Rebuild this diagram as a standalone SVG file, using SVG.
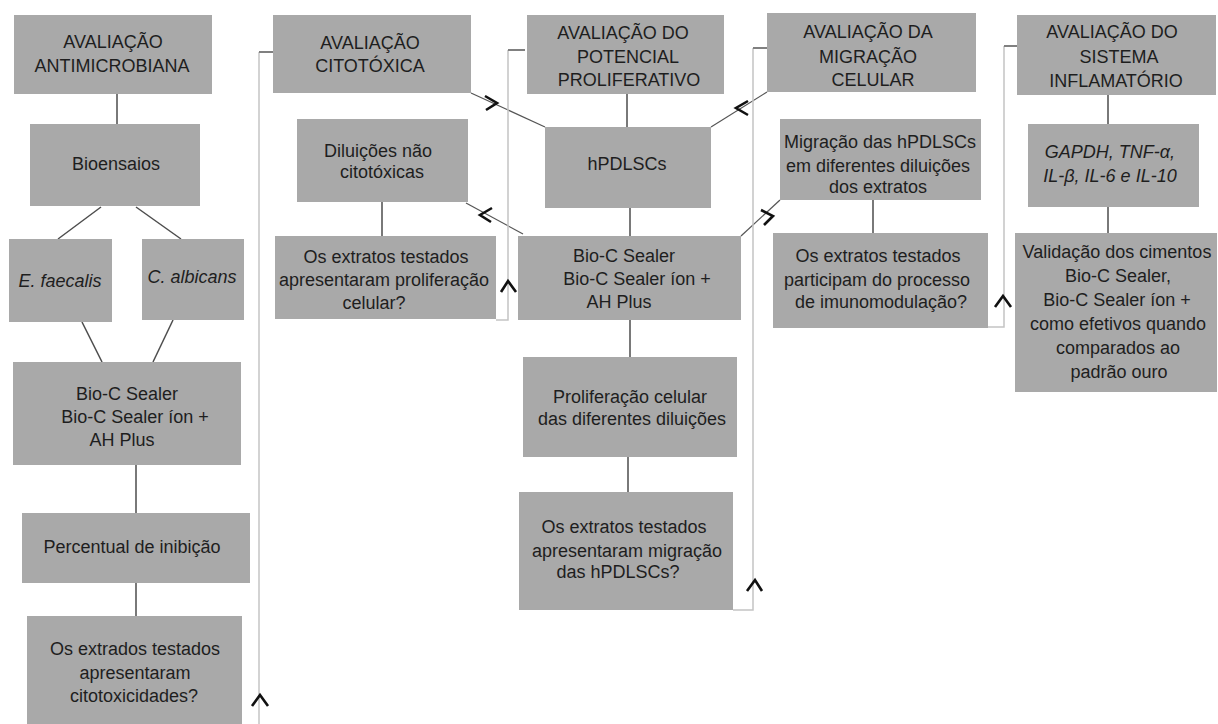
<svg xmlns="http://www.w3.org/2000/svg" width="1218" height="724" viewBox="0 0 1218 724">
<style>
.box{fill:#a9a9a9}
.t{font-family:"Liberation Sans",Arial,sans-serif;font-size:18px;fill:#1e1e1e;text-anchor:middle}
.i{font-style:italic}
.conn{stroke:#4d4d4d;stroke-width:1.5;fill:none}
.diag{stroke:#555;stroke-width:1.2;fill:none}
.bracket{stroke:#c4c4c4;stroke-width:1.5;fill:none}
.stub{stroke:#808080;stroke-width:2;fill:none}
.mark{stroke:#111;stroke-width:2.6;fill:none;stroke-linejoin:miter}
</style>
<rect width="1218" height="724" fill="#fff"/>
<g id="connectors">
<line class="conn" x1="117" y1="94" x2="117" y2="124"/>
<line class="conn" x1="101" y1="207" x2="58" y2="239"/>
<line class="conn" x1="136" y1="207" x2="181" y2="239"/>
<line class="conn" x1="82" y1="322" x2="102" y2="362"/>
<line class="conn" x1="173" y1="320" x2="153" y2="362"/>
<line class="conn" x1="136" y1="465" x2="136" y2="513"/>
<line class="conn" x1="136" y1="583" x2="136" y2="616"/>
<line class="conn" x1="382" y1="202" x2="382" y2="236"/>
<line class="conn" x1="627" y1="94" x2="627" y2="127"/>
<line class="conn" x1="630" y1="208" x2="630" y2="236"/>
<line class="conn" x1="630" y1="320" x2="630" y2="357"/>
<line class="conn" x1="628" y1="457" x2="628" y2="492"/>
<line class="conn" x1="873" y1="200" x2="873" y2="233"/>
<line class="conn" x1="1108" y1="95" x2="1108" y2="124"/>
<line class="conn" x1="1108" y1="207" x2="1108" y2="233"/>
<line class="diag" x1="471" y1="93" x2="545" y2="127"/>
<line class="diag" x1="466" y1="203" x2="523" y2="234"/>
<line class="diag" x1="711" y1="127" x2="767" y2="92"/>
<line class="diag" x1="741" y1="236" x2="780" y2="200"/>
<polyline class="bracket" points="259,52 259,724"/>
<line class="stub" x1="259" y1="52" x2="273" y2="52"/>
<polyline class="bracket" points="496,320 508,320 508,50"/>
<line class="stub" x1="508" y1="50" x2="525" y2="50"/>
<polyline class="bracket" points="733,610 753,610 753,48"/>
<line class="stub" x1="753" y1="48" x2="767" y2="48"/>
<polyline class="bracket" points="988,327 1004,327 1004,46"/>
<line class="stub" x1="1004" y1="46" x2="1017" y2="46"/>
<polyline class="mark" points="485,96 497,103 486,110"/>
<polyline class="mark" points="492,208 480,215 491,222"/>
<polyline class="mark" points="748,101 736,108 748,115"/>
<polyline class="mark" points="761,210 773,216 764,225"/>
<polyline class="mark" points="252,706 260,695 268,706"/>
<polyline class="mark" points="501,292 508,281 516,292"/>
<polyline class="mark" points="747,591 755,580 762,591"/>
<polyline class="mark" points="995,307 1003,296 1011,307"/>
</g>
<g id="n-antimicrobiana"><rect class="box" x="14" y="15" width="198" height="79"/><text class="t"><tspan x="113" y="48">AVALIAÇÃO</tspan><tspan x="112" y="72">ANTIMICROBIANA</tspan></text></g>
<g id="n-bioensaios"><rect class="box" x="30" y="124" width="170" height="82"/><text class="t" x="116" y="170">Bioensaios</text></g>
<g id="n-efaecalis"><rect class="box" x="9" y="239" width="103" height="83"/><text class="t i" x="60" y="287">E. faecalis</text></g>
<g id="n-calbicans"><rect class="box" x="142" y="239" width="102" height="81"/><text class="t i" x="192" y="283">C. albicans</text></g>
<g id="n-bioc1"><rect class="box" x="13" y="362" width="228" height="103"/><text class="t"><tspan x="127" y="400">Bio-C Sealer</tspan><tspan x="135" y="423">Bio-C Sealer íon +</tspan><tspan x="122" y="446">AH Plus</tspan></text></g>
<g id="n-percentual"><rect class="box" x="22" y="513" width="228" height="70"/><text class="t" x="132" y="553">Percentual de inibição</text></g>
<g id="n-citotox-q"><rect class="box" x="27" y="616" width="215" height="112"/><text class="t"><tspan x="135" y="655">Os extrados testados</tspan><tspan x="135" y="679">apresentaram</tspan><tspan x="134" y="702">citotoxicidades?</tspan></text></g>
<g id="n-citotoxica"><rect class="box" x="273" y="15" width="198" height="78"/><text class="t"><tspan x="370" y="49">AVALIAÇÃO</tspan><tspan x="370" y="72">CITOTÓXICA</tspan></text></g>
<g id="n-diluicoes"><rect class="box" x="297" y="119" width="171" height="83"/><text class="t"><tspan x="378" y="157">Diluições não</tspan><tspan x="382" y="178">citotóxicas</tspan></text></g>
<g id="n-prolif-q"><rect class="box" x="275" y="236" width="221" height="83"/><text class="t"><tspan x="386" y="263">Os extratos testados</tspan><tspan x="384" y="286">apresentaram proliferação</tspan><tspan x="374" y="309">celular?</tspan></text></g>
<g id="n-potencial"><rect class="box" x="527" y="15" width="197" height="79"/><text class="t"><tspan x="623" y="39">AVALIAÇÃO DO</tspan><tspan x="628" y="63">POTENCIAL</tspan><tspan x="629" y="86">PROLIFERATIVO</tspan></text></g>
<g id="n-hpdlscs"><rect class="box" x="545" y="127" width="166" height="81"/><text class="t" x="627" y="170">hPDLSCs</text></g>
<g id="n-bioc2"><rect class="box" x="518" y="236" width="223" height="84"/><text class="t"><tspan x="624" y="262">Bio-C Sealer</tspan><tspan x="637" y="285">Bio-C Sealer íon +</tspan><tspan x="619" y="308">AH Plus</tspan></text></g>
<g id="n-proliferacao"><rect class="box" x="523" y="357" width="214" height="100"/><text class="t"><tspan x="630" y="403">Proliferação celular</tspan><tspan x="632" y="425">das diferentes diluições</tspan></text></g>
<g id="n-migracao-q"><rect class="box" x="519" y="492" width="214" height="118"/><text class="t"><tspan x="624" y="533">Os extratos testados</tspan><tspan x="627" y="557">apresentaram migração</tspan><tspan x="618" y="578">das hPDLSCs?</tspan></text></g>
<g id="n-migracao"><rect class="box" x="767" y="13" width="209" height="79"/><text class="t"><tspan x="868" y="38">AVALIAÇÃO  DA</tspan><tspan x="868" y="63">MIGRAÇÃO</tspan><tspan x="873" y="86">CELULAR</tspan></text></g>
<g id="n-migracao-hpdlscs"><rect class="box" x="780" y="119" width="201" height="81"/><text class="t"><tspan x="880" y="148">Migração das hPDLSCs</tspan><tspan x="878" y="172">em diferentes diluições</tspan><tspan x="878" y="193">dos extratos</tspan></text></g>
<g id="n-imuno-q"><rect class="box" x="773" y="233" width="215" height="95"/><text class="t"><tspan x="878" y="262">Os extratos testados</tspan><tspan x="877" y="286">participam do processo</tspan><tspan x="881" y="308">de imunomodulação?</tspan></text></g>
<g id="n-inflamatorio"><rect class="box" x="1017" y="15" width="199" height="80"/><text class="t"><tspan x="1112" y="38">AVALIAÇÃO  DO</tspan><tspan x="1119" y="63">SISTEMA</tspan><tspan x="1116" y="87">INFLAMATÓRIO</tspan></text></g>
<g id="n-gapdh"><rect class="box" x="1028" y="124" width="171" height="83"/><text class="t i"><tspan x="1110" y="158">GAPDH, TNF-α,</tspan><tspan x="1110" y="182">IL-β, IL-6 e IL-10</tspan></text></g>
<g id="n-validacao"><rect class="box" x="1015" y="233" width="202" height="159"/><text class="t"><tspan x="1117" y="258">Validação dos cimentos</tspan><tspan x="1118" y="282">Bio-C Sealer,</tspan><tspan x="1117" y="306">Bio-C Sealer íon +</tspan><tspan x="1118" y="330">como efetivos quando</tspan><tspan x="1118" y="354">comparados ao</tspan><tspan x="1119" y="378">padrão ouro</tspan></text></g>
</svg>
